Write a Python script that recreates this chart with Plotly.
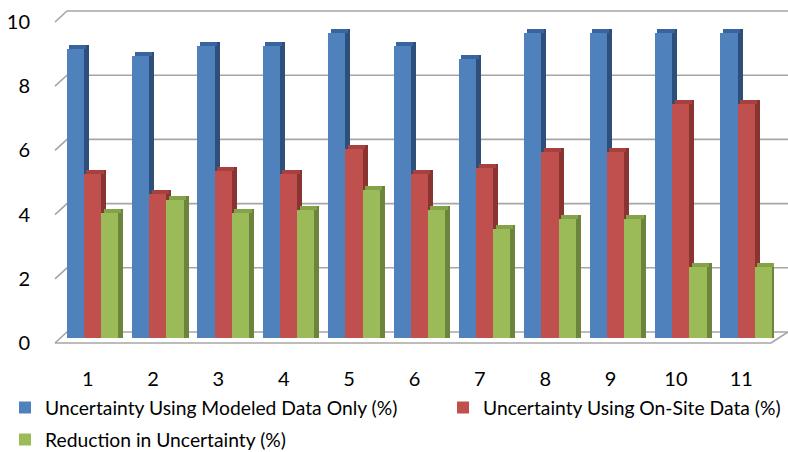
import plotly.graph_objects as go

categories = [1, 2, 3, 4, 5, 6, 7, 8, 9, 10, 11]
modeled = [9.0, 8.8, 9.1, 9.1, 9.5, 9.1, 8.7, 9.5, 9.5, 9.5, 9.5]
onsite = [5.1, 4.5, 5.2, 5.1, 5.9, 5.1, 5.3, 5.8, 5.8, 7.3, 7.3]
reduction = [3.9, 4.3, 3.9, 4.0, 4.6, 4.0, 3.4, 3.7, 3.7, 2.2, 2.2]
names = ["Uncertainty Using Modeled Data Only (%)",
         "Uncertainty Using On-Site Data (%)",
         "Reduction in Uncertainty (%)"]
yticks = [0, 2, 4, 6, 8, 10]

front_cols = ["#4f81bd", "#c0504d", "#9bbb59"]
side_cols = ["#2d4f7a", "#8a3432", "#6c843c"]
cap_cols = ["#3a64a0", "#a8403d", "#84a349"]

W, H = 788, 452
ML, MR, MT, MB = 55, 14, 9, 105
SY = 32.1                      # px per unit
PW = W - ML - MR
SX = PW / 11.0                 # px per category
plot_h = H - MT - MB
y_lo = -4 / SY
y_hi = y_lo + plot_h / SY
y2_lo = -9 / SY
y2_hi = y2_lo + plot_h / SY

bw = 0.263
offsets = [-0.321, -0.058, 0.205]
depth_x = 5 / SX
depth_y = 4 / SY
legend_ids = ["legend", "legend2", "legend3"]

fig = go.Figure()
for i, vals in enumerate([modeled, onsite, reduction]):
    fig.add_trace(go.Bar(
        x=categories, y=[v + depth_y for v in vals], base=0,
        width=depth_x, offset=offsets[i] + bw,
        marker=dict(color=side_cols[i], line=dict(width=0)),
        yaxis="y2", showlegend=False, hoverinfo="skip"))
    fig.add_trace(go.Bar(
        x=categories, y=[depth_y] * len(vals), base=vals,
        width=bw, offset=offsets[i] + depth_x / 2,
        marker=dict(color=cap_cols[i], line=dict(width=0)),
        yaxis="y2", showlegend=False, hoverinfo="skip"))
    fig.add_trace(go.Bar(
        x=categories, y=vals, width=bw, offset=offsets[i],
        name=names[i], marker=dict(color=front_cols[i], line=dict(width=0)),
        yaxis="y2", legend=legend_ids[i]))

wall_dx = 12 / PW
right_x = 1 + MR / PW
shift = 11 / SY
shapes = []
for v in yticks:
    shapes.append(dict(
        type="path", xref="paper", yref="y",
        path=f"M 0,{v} L {wall_dx},{v + shift} L {right_x},{v + shift}",
        line=dict(color="#a6a6a6", width=1.6), layer="below"))
shapes.append(dict(
    type="path", xref="paper", yref="y",
    path=f"M 0,0 L {1 - 0.004},0 L {right_x},{shift}",
    line=dict(color="#a6a6a6", width=1.6), layer="below"))
fig.update_layout(shapes=shapes)


def lx(px):
    return (px - ML) / PW


def ly(py):
    return (H - MB - py) / plot_h


leg_common = dict(xref="paper", yref="paper", yanchor="middle", xanchor="left",
                  orientation="h", font=dict(size=19.3), bgcolor="rgba(0,0,0,0)")

fig.update_layout(
    width=W, height=H,
    margin=dict(l=ML, r=MR, t=MT, b=MB, autoexpand=False),
    paper_bgcolor="white", plot_bgcolor="rgba(0,0,0,0)",
    barmode="overlay", bargap=0,
    font=dict(family="Lato", size=20, color="#000000"),
    xaxis=dict(range=[0.5, 11.5], tickmode="array", tickvals=categories,
               ticktext=[str(c) for c in categories], showgrid=False,
               zeroline=False, showline=False, ticks="outside", ticklen=14,
               tickcolor="rgba(0,0,0,0)", tickfont=dict(size=20),
               automargin=False),
    yaxis=dict(range=[y_lo, y_hi], tickmode="array", tickvals=yticks,
               showgrid=False, zeroline=False, showline=False,
               ticks="outside", ticklen=20, tickcolor="rgba(0,0,0,0)",
               tickfont=dict(size=20), automargin=False),
    yaxis2=dict(range=[y2_lo, y2_hi], overlaying="y", visible=False),
    legend=dict(x=lx(5), y=ly(408), **leg_common),
    legend2=dict(x=lx(443), y=ly(408), **leg_common),
    legend3=dict(x=lx(5), y=ly(440), **leg_common),
)

fig.write_html("out.html",
               config={"displayModeBar": False},
               post_script="document.body.style.margin='0';"
                           "document.body.style.overflow='hidden';")
